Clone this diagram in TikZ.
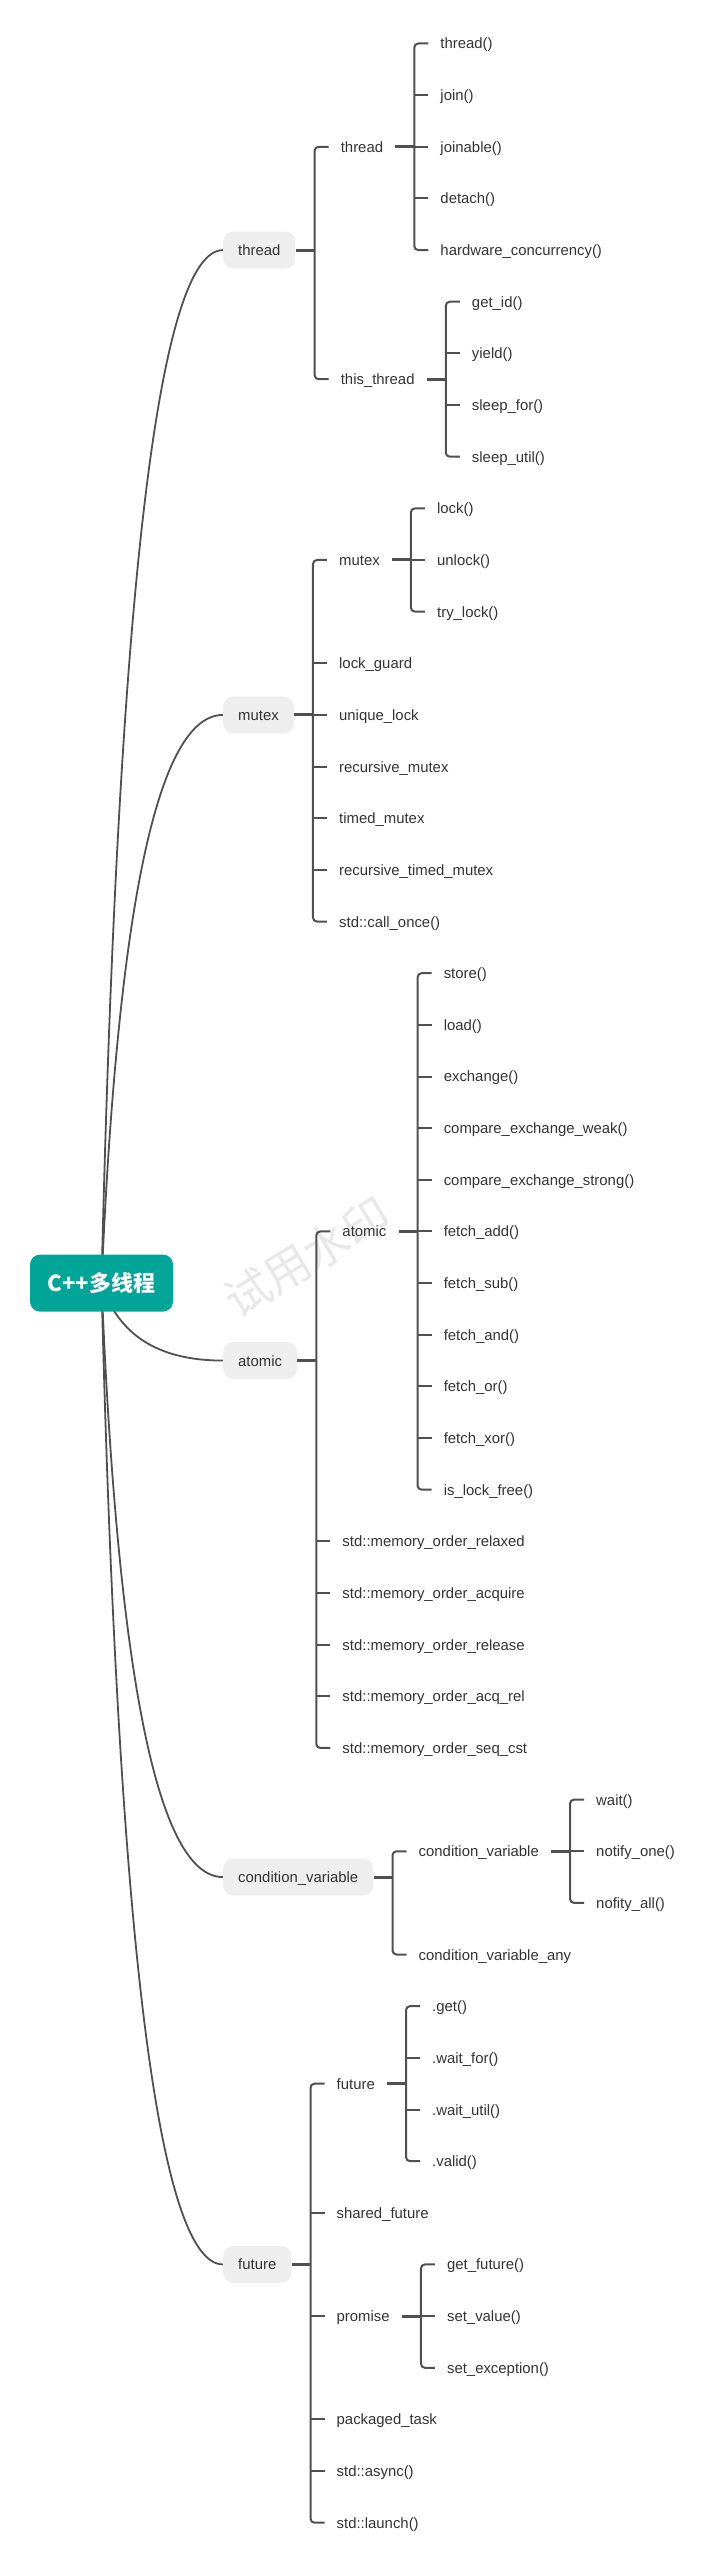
\documentclass[tikz,border=0pt]{standalone}
\usepackage{fontspec}
\setmainfont{Liberation Sans}
\newfontfamily\cjk{Noto Sans CJK SC}
\usetikzlibrary{calc,backgrounds}
\definecolor{rootcol}{HTML}{00A598}
\definecolor{boxcol}{HTML}{EEEEEE}
\definecolor{linecol}{HTML}{505050}
\definecolor{txtcol}{HTML}{333333}
\tikzset{
  root/.style={fill=rootcol, text=white, rounded corners=10pt,
    minimum width=143pt, minimum height=57pt,
    font=\cjk\bfseries\fontsize{22}{26}\selectfont},
  topic/.style={anchor=west, fill=boxcol, text=txtcol, rounded corners=10pt,
    inner xsep=15pt, minimum height=37pt, text height=11pt, text depth=0pt,
    font=\fontsize{14.9}{18}\selectfont},
  sub/.style={anchor=west, text=txtcol, inner xsep=12pt, inner ysep=2pt,
    text height=11pt, text depth=0pt, font=\fontsize{14.9}{18}\selectfont},
  link/.style={draw=linecol, line width=3pt},
  brace/.style={draw=linecol, line width=2pt, rounded corners=4pt},
  branch/.style={draw=linecol, line width=1.8pt},
}
\begin{document}
\begin{tikzpicture}[x=1pt,y=-51.65pt]
  \useasboundingbox (0,-0.842) rectangle (718,48.742);
  \node[root] (root) at (101.5,24) {C++多线程};
  % level 1
  \node[topic] (thr) at (223,4) {thread};
  \node[topic] (mtx) at (223,13) {mutex};
  \node[topic] (atm) at (223,25.5) {atomic};
  \node[topic] (cv) at (223,35.5) {condition\_variable};
  \node[topic] (fut) at (223,43) {future};
  \coordinate (thrb) at ([xshift=19pt]thr.east);
  \coordinate (mtxb) at ([xshift=19pt]mtx.east);
  \coordinate (atmb) at ([xshift=19pt]atm.east);
  \coordinate (cvb) at ([xshift=19pt]cv.east);
  \coordinate (futb) at ([xshift=19pt]fut.east);
  % thread
  \node[sub, xshift=14pt] (thr1) at (thrb |- 0,2) {thread};
  \node[sub, xshift=14pt] (thr2) at (thrb |- 0,6.5) {this\_thread};
  \coordinate (thr1b) at ([xshift=19pt]thr1.east);
  \coordinate (thr2b) at ([xshift=19pt]thr2.east);
  \node[sub, xshift=14pt] (ta) at (thr1b |- 0,0) {thread()};
  \node[sub, xshift=14pt] (tb) at (thr1b |- 0,1) {join()};
  \node[sub, xshift=14pt] (tc) at (thr1b |- 0,2) {joinable()};
  \node[sub, xshift=14pt] (td) at (thr1b |- 0,3) {detach()};
  \node[sub, xshift=14pt] (te) at (thr1b |- 0,4) {hardware\_concurrency()};
  \node[sub, xshift=14pt] (tf) at (thr2b |- 0,5) {get\_id()};
  \node[sub, xshift=14pt] (tg) at (thr2b |- 0,6) {yield()};
  \node[sub, xshift=14pt] (th) at (thr2b |- 0,7) {sleep\_for()};
  \node[sub, xshift=14pt] (ti) at (thr2b |- 0,8) {sleep\_util()};
  % mutex
  \node[sub, xshift=14pt] (mtx1) at (mtxb |- 0,10) {mutex};
  \coordinate (mtx1b) at ([xshift=19pt]mtx1.east);
  \node[sub, xshift=14pt] (ma) at (mtx1b |- 0,9) {lock()};
  \node[sub, xshift=14pt] (mb) at (mtx1b |- 0,10) {unlock()};
  \node[sub, xshift=14pt] (mc) at (mtx1b |- 0,11) {try\_lock()};
  \node[sub, xshift=14pt] (md) at (mtxb |- 0,12) {lock\_guard};
  \node[sub, xshift=14pt] (me) at (mtxb |- 0,13) {unique\_lock};
  \node[sub, xshift=14pt] (mf) at (mtxb |- 0,14) {recursive\_mutex};
  \node[sub, xshift=14pt] (mg) at (mtxb |- 0,15) {timed\_mutex};
  \node[sub, xshift=14pt] (mh) at (mtxb |- 0,16) {recursive\_timed\_mutex};
  \node[sub, xshift=14pt] (mi) at (mtxb |- 0,17) {std::call\_once()};
  % atomic
  \node[sub, xshift=14pt] (atm1) at (atmb |- 0,23) {atomic};
  \coordinate (atm1b) at ([xshift=19pt]atm1.east);
  \node[sub, xshift=14pt] (aa) at (atm1b |- 0,18) {store()};
  \node[sub, xshift=14pt] (ab) at (atm1b |- 0,19) {load()};
  \node[sub, xshift=14pt] (ac) at (atm1b |- 0,20) {exchange()};
  \node[sub, xshift=14pt] (ad) at (atm1b |- 0,21) {compare\_exchange\_weak()};
  \node[sub, xshift=14pt] (ae) at (atm1b |- 0,22) {compare\_exchange\_strong()};
  \node[sub, xshift=14pt] (af) at (atm1b |- 0,23) {fetch\_add()};
  \node[sub, xshift=14pt] (ag) at (atm1b |- 0,24) {fetch\_sub()};
  \node[sub, xshift=14pt] (ah) at (atm1b |- 0,25) {fetch\_and()};
  \node[sub, xshift=14pt] (ai) at (atm1b |- 0,26) {fetch\_or()};
  \node[sub, xshift=14pt] (aj) at (atm1b |- 0,27) {fetch\_xor()};
  \node[sub, xshift=14pt] (ak) at (atm1b |- 0,28) {is\_lock\_free()};
  \node[sub, xshift=14pt] (al) at (atmb |- 0,29) {std::memory\_order\_relaxed};
  \node[sub, xshift=14pt] (am) at (atmb |- 0,30) {std::memory\_order\_acquire};
  \node[sub, xshift=14pt] (an) at (atmb |- 0,31) {std::memory\_order\_release};
  \node[sub, xshift=14pt] (ao) at (atmb |- 0,32) {std::memory\_order\_acq\_rel};
  \node[sub, xshift=14pt] (ap) at (atmb |- 0,33) {std::memory\_order\_seq\_cst};
  % condition_variable
  \node[sub, xshift=14pt] (cv1) at (cvb |- 0,35) {condition\_variable};
  \coordinate (cv1b) at ([xshift=19pt]cv1.east);
  \node[sub, xshift=14pt] (ca) at (cv1b |- 0,34) {wait()};
  \node[sub, xshift=14pt] (cb) at (cv1b |- 0,35) {notify\_one()};
  \node[sub, xshift=14pt] (cc) at (cv1b |- 0,36) {nofity\_all()};
  \node[sub, xshift=14pt] (cd) at (cvb |- 0,37) {condition\_variable\_any};
  % future
  \node[sub, xshift=14pt] (fut1) at (futb |- 0,39.5) {future};
  \node[sub, xshift=14pt] (fut2) at (futb |- 0,44) {promise};
  \coordinate (fut1b) at ([xshift=19pt]fut1.east);
  \coordinate (fut2b) at ([xshift=19pt]fut2.east);
  \node[sub, xshift=14pt] (fa) at (fut1b |- 0,38) {.get()};
  \node[sub, xshift=14pt] (fb) at (fut1b |- 0,39) {.wait\_for()};
  \node[sub, xshift=14pt] (fc) at (fut1b |- 0,40) {.wait\_util()};
  \node[sub, xshift=14pt] (fd) at (fut1b |- 0,41) {.valid()};
  \node[sub, xshift=14pt] (fe) at (futb |- 0,42) {shared\_future};
  \node[sub, xshift=14pt] (fg) at (fut2b |- 0,43) {get\_future()};
  \node[sub, xshift=14pt] (fh) at (fut2b |- 0,44) {set\_value()};
  \node[sub, xshift=14pt] (fi) at (fut2b |- 0,45) {set\_exception()};
  \node[sub, xshift=14pt] (fj) at (futb |- 0,46) {packaged\_task};
  \node[sub, xshift=14pt] (fk) at (futb |- 0,47) {std::async()};
  \node[sub, xshift=14pt] (fl) at (futb |- 0,48) {std::launch()};
  % connectors
  \begin{scope}[on background layer]
    \node[text=black!9, rotate=31, font=\cjk\fontsize{46}{46}\selectfont] (wm) at (307,23.5) {试用水印};
    \draw[branch] (root.center) .. controls (117.8,10.67) and (158,4) .. (thr.west);
    \draw[branch] (root.center) .. controls (117.8,16.67) and (158,13) .. (mtx.west);
    \draw[branch] (root.center) .. controls (117.8,25) and (158,25.5) .. (atm.west);
    \draw[branch] (root.center) .. controls (117.8,31.67) and (158,35.5) .. (cv.west);
    \draw[branch] (root.center) .. controls (117.8,36.67) and (158,43) .. (fut.west);
  \end{scope}
  \draw[link] (thr.east) -- (thrb);
  \draw[brace] (thr1.west) -| (thrb) |- (thr2.west);
  \draw[link] (thr1.east) -- (thr1b);
  \draw[brace] (ta.west) -| (thr1b) |- (te.west);
  \draw[brace] (thr1b |- tb) -- (tb.west) (thr1b |- tc) -- (tc.west) (thr1b |- td) -- (td.west);
  \draw[link] (thr2.east) -- (thr2b);
  \draw[brace] (tf.west) -| (thr2b) |- (ti.west);
  \draw[brace] (thr2b |- tg) -- (tg.west) (thr2b |- th) -- (th.west);
  \draw[link] (mtx.east) -- (mtxb);
  \draw[brace] (mtx1.west) -| (mtxb) |- (mi.west);
  \draw[brace] (mtxb |- md) -- (md.west) (mtxb |- me) -- (me.west) (mtxb |- mf) -- (mf.west)
    (mtxb |- mg) -- (mg.west) (mtxb |- mh) -- (mh.west);
  \draw[link] (mtx1.east) -- (mtx1b);
  \draw[brace] (ma.west) -| (mtx1b) |- (mc.west);
  \draw[brace] (mtx1b |- mb) -- (mb.west);
  \draw[link] (atm.east) -- (atmb);
  \draw[brace] (atm1.west) -| (atmb) |- (ap.west);
  \draw[brace] (atmb |- al) -- (al.west) (atmb |- am) -- (am.west) (atmb |- an) -- (an.west)
    (atmb |- ao) -- (ao.west);
  \draw[link] (atm1.east) -- (atm1b);
  \draw[brace] (aa.west) -| (atm1b) |- (ak.west);
  \draw[brace] (atm1b |- ab) -- (ab.west) (atm1b |- ac) -- (ac.west) (atm1b |- ad) -- (ad.west)
    (atm1b |- ae) -- (ae.west) (atm1b |- af) -- (af.west) (atm1b |- ag) -- (ag.west)
    (atm1b |- ah) -- (ah.west) (atm1b |- ai) -- (ai.west) (atm1b |- aj) -- (aj.west);
  \draw[link] (cv.east) -- (cvb);
  \draw[brace] (cv1.west) -| (cvb) |- (cd.west);
  \draw[link] (cv1.east) -- (cv1b);
  \draw[brace] (ca.west) -| (cv1b) |- (cc.west);
  \draw[brace] (cv1b |- cb) -- (cb.west);
  \draw[link] (fut.east) -- (futb);
  \draw[brace] (fut1.west) -| (futb) |- (fl.west);
  \draw[brace] (futb |- fe) -- (fe.west) (futb |- fut2) -- (fut2.west) (futb |- fj) -- (fj.west)
    (futb |- fk) -- (fk.west);
  \draw[link] (fut1.east) -- (fut1b);
  \draw[brace] (fa.west) -| (fut1b) |- (fd.west);
  \draw[brace] (fut1b |- fb) -- (fb.west) (fut1b |- fc) -- (fc.west);
  \draw[link] (fut2.east) -- (fut2b);
  \draw[brace] (fg.west) -| (fut2b) |- (fi.west);
  \draw[brace] (fut2b |- fh) -- (fh.west);
\end{tikzpicture}
\end{document}
